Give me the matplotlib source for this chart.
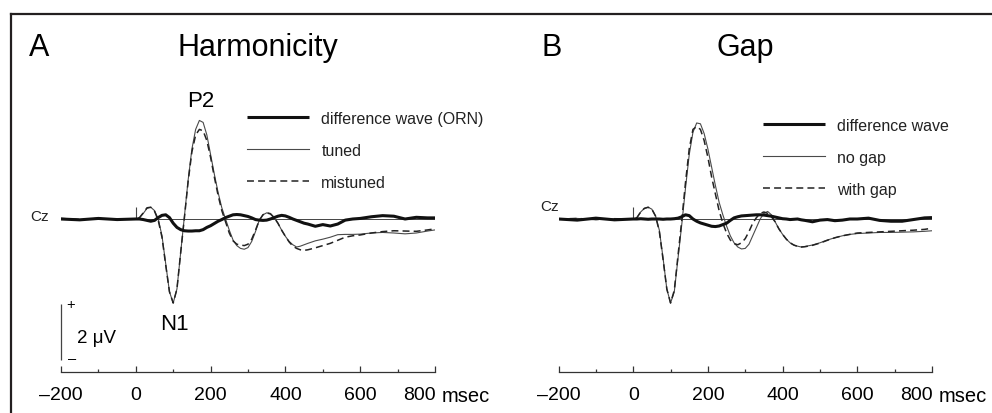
import numpy as np
import matplotlib.pyplot as plt
from matplotlib.lines import Line2D
from matplotlib.transforms import ScaledTranslation

plt.rcParams['font.family'] = ['Liberation Sans', 'DejaVu Sans']
plt.rcParams['lines.scale_dashes'] = False

# ---- data (µV) ----
t_ms = np.r_[[-200, -150, -100, -50], np.arange(0, 461, 10),
             np.arange(480, 601, 20), np.arange(630, 781, 30), [800]]

tuned = [0.02, -0.02, 0.02, -0.01, 0.0,
         0.05, 0.2, 0.38, 0.42, 0.3, 0.0, -0.6, -1.6, -2.6, -3.0,
         -2.5, -1.2, 0.1, 1.4, 2.5, 3.2, 3.52, 3.45, 3.0, 2.3,
         1.6, 0.95, 0.4, 0.0, -0.4, -0.75, -0.95, -1.05, -1.08, -1.02,
         -0.8, -0.45, -0.05, 0.15, 0.22, 0.2, 0.05, -0.15, -0.4, -0.62,
         -0.8, -0.92, -1.0, -0.97, -0.92, -0.87,
         -0.78, -0.72, -0.65, -0.56, -0.55, -0.55, -0.54,
         -0.5, -0.48, -0.5, -0.53, -0.5, -0.43,
         -0.39]
mistuned = [0.02, -0.02, 0.02, -0.01, 0.0,
            0.05, 0.22, 0.4, 0.42, 0.28, -0.05, -0.65, -1.65, -2.6, -3.0,
            -2.5, -1.2, 0.05, 1.35, 2.4, 3.0, 3.2, 3.15, 2.8, 2.2,
            1.5, 0.85, 0.3, -0.1, -0.5, -0.78, -0.9, -0.93, -0.95, -0.9,
            -0.72, -0.4, -0.05, 0.15, 0.22, 0.18, 0.05, -0.15, -0.4, -0.62,
            -0.82, -0.97, -1.05, -1.1, -1.12, -1.1,
            -1.03, -0.95, -0.87, -0.76, -0.65, -0.6, -0.57,
            -0.5, -0.45, -0.42, -0.43, -0.44, -0.39,
            -0.35]
orn = [0.0, -0.03, 0.02, -0.02, 0.0,
       0.0, -0.02, -0.05, -0.08, -0.05, 0.05, 0.13, 0.15, 0.05, -0.15,
       -0.3, -0.38, -0.42, -0.43, -0.43, -0.42, -0.42, -0.38, -0.3, -0.24,
       -0.16, -0.08, -0.02, 0.05, 0.1, 0.15, 0.16, 0.15, 0.12, 0.09,
       0.04, -0.02, -0.04, -0.05, -0.04, 0.0, 0.05, 0.1, 0.13, 0.11,
       0.06, 0.0, -0.05, -0.1, -0.15, -0.18,
       -0.26, -0.2, -0.25, -0.18, -0.04, 0.0, 0.02,
       0.08, 0.12, 0.1, 0.0, 0.06, 0.04,
       0.04]

no_gap = [0.0, 0.02, -0.02, 0.01, 0.0,
          0.05, 0.25, 0.38, 0.42, 0.35, 0.1, -0.4, -1.4, -2.5, -3.0,
          -2.6, -1.4, -0.2, 1.1, 2.3, 3.1, 3.43, 3.4, 3.05, 2.5,
          1.85, 1.2, 0.6, 0.15, -0.25, -0.6, -0.85, -1.0, -1.07, -1.05,
          -0.9, -0.6, -0.3, 0.0, 0.2, 0.27, 0.15, -0.1, -0.35, -0.55,
          -0.72, -0.85, -0.93, -0.97, -1.0, -0.98,
          -0.93, -0.85, -0.75, -0.67, -0.6, -0.55, -0.52,
          -0.5, -0.48, -0.48, -0.47, -0.46, -0.44,
          -0.42]
with_gap = [0.0, 0.02, -0.02, 0.01, 0.0,
            0.05, 0.25, 0.38, 0.42, 0.35, 0.1, -0.45, -1.45, -2.5, -3.0,
            -2.55, -1.3, -0.05, 1.3, 2.5, 3.2, 3.3, 3.2, 2.8, 2.2,
            1.5, 0.9, 0.3, -0.15, -0.5, -0.75, -0.88, -0.92, -0.85, -0.7,
            -0.45, -0.15, 0.05, 0.2, 0.25, 0.2, 0.08, -0.1, -0.35, -0.55,
            -0.72, -0.85, -0.93, -0.98, -1.0, -0.99,
            -0.94, -0.86, -0.76, -0.67, -0.6, -0.55, -0.5,
            -0.48, -0.46, -0.44, -0.42, -0.4, -0.37,
            -0.33]
gap_diff = [0.0, -0.04, 0.03, -0.03, 0.0,
            0.0, 0.01, 0.0, -0.01, 0.0, 0.0, 0.0, -0.01, 0.0, 0.0,
            0.01, 0.03, 0.08, 0.15, 0.12, 0.0, -0.08, -0.14, -0.18, -0.22,
            -0.26, -0.27, -0.25, -0.2, -0.15, -0.05, 0.04, 0.08, 0.11, 0.12,
            0.13, 0.14, 0.15, 0.15, 0.14, 0.12, 0.1, 0.07, 0.04, 0.01,
            0.0, -0.02, -0.01, 0.0, -0.03, -0.05,
            -0.1, -0.04, -0.02, -0.06, -0.04, 0.0, 0.0,
            0.03, -0.05, -0.08, -0.08, -0.02, 0.04,
            0.05]

tick_major = [-200, 0, 200, 400, 600, 800]
tick_minor = [-100, 100, 300, 500, 700]
tick_text = ['–200', '0', '200', '400', '600', '800']

# ---- layout (pixels measured from the top-left corner) ----
W, H = 992, 414
fig = plt.figure(figsize=(W / 100, H / 100), dpi=100)


def fx(x):
    return x / W


def fy(y):
    return 1 - y / H


px_per_uv = 28.0
base_y, axis_y, top_y = 220, 373, 14.5
ylim = (-(axis_y - base_y) / px_per_uv, (base_y - top_y) / px_per_uv)

thick = dict(color='#111111', lw=2.2, solid_capstyle='butt')
thin = dict(color='#4a4a4a', lw=0.8)
dashed = dict(color='#222222', lw=1.1, dashes=(5, 3))


def make_panel(left, width):
    ax = fig.add_axes([fx(left), fy(axis_y), width / W, (axis_y - top_y) / H])
    ax.patch.set_visible(False)
    ax.set_xlim(-200, 800)
    ax.set_ylim(*ylim)
    for s in ['top', 'left', 'right']:
        ax.spines[s].set_visible(False)
    ax.spines['bottom'].set_color('#333333')
    ax.spines['bottom'].set_linewidth(0.9)
    ax.set_yticks([])
    ax.set_xticks(tick_major)
    ax.set_xticks(tick_minor, minor=True)
    ax.set_xticklabels(tick_text)
    ax.tick_params(axis='x', which='major', direction='in', length=4, width=0.9,
                   color='#333333', labelsize=14, pad=10)
    ax.tick_params(axis='x', which='minor', direction='in', length=2.3, width=0.9,
                   color='#333333')
    # last label sits left of its tick to leave room for the unit
    lab = ax.xaxis.get_major_ticks()[-1].label1
    lab.set_transform(lab.get_transform() + ScaledTranslation(-0.16, 0, fig.dpi_scale_trans))
    ax.annotate('msec', xy=(800, 0), xycoords=ax.get_xaxis_transform(),
                xytext=(5, -10), textcoords='offset points',
                ha='left', va='top', fontsize=14.5)
    ax.axhline(0, color='#444444', lw=0.7)
    ax.vlines(0, 0, 0.42, color='#444444', lw=0.8)
    return ax


legend_kw = dict(loc='upper left', bbox_transform=fig.transFigure, frameon=False,
                 borderpad=0, borderaxespad=0, handlelength=3.9, handletextpad=0.75,
                 labelspacing=1.05, fontsize=11.5, labelcolor='#222222')

# ---- panel A: harmonicity ----
axA = make_panel(61, 374)
l_tu, = axA.plot(t_ms, tuned, **thin)
l_mi, = axA.plot(t_ms, mistuned, **dashed)
l_or, = axA.plot(t_ms, orn, **thick)
axA.legend([l_or, l_tu, l_mi], ['difference wave (ORN)', 'tuned', 'mistuned'],
           bbox_to_anchor=(fx(247), fy(112)), **legend_kw)
axA.text(-232, 0.1, 'Cz', ha='right', va='center', fontsize=11, color='#222222')
# 2 µV calibration bar
axA.vlines(-200, -3.05, -5.05, color='#444444', lw=0.9, clip_on=False)
fig.text(fx(71), fy(305), '+', ha='center', va='center', fontsize=10.5)
fig.text(fx(72), fy(359), '–', ha='center', va='center', fontsize=10.5)
fig.text(fx(77), fy(343), '2 μV', ha='left', va='baseline', fontsize=13.5)
fig.text(fx(201), fy(107), 'P2', ha='center', va='baseline', fontsize=16)
fig.text(fx(174.5), fy(330), 'N1', ha='center', va='baseline', fontsize=16)
fig.text(fx(29), fy(56.5), 'A', ha='left', va='baseline', fontsize=22)
fig.text(fx(258), fy(56.5), 'Harmonicity', ha='center', va='baseline', fontsize=22)

# ---- panel B: gap ----
axB = make_panel(558.5, 373.5)
l_ng, = axB.plot(t_ms, no_gap, **thin)
l_wg, = axB.plot(t_ms, with_gap, **dashed)
l_gd, = axB.plot(t_ms, gap_diff, **thick)
axB.legend([l_gd, l_ng, l_wg], ['difference wave', 'no gap', 'with gap'],
           bbox_to_anchor=(fx(763), fy(119)), **legend_kw)
axB.text(-198, 0.45, 'Cz', ha='right', va='center', fontsize=11, color='#222222')
fig.text(fx(541), fy(56), 'B', ha='left', va='baseline', fontsize=22)
fig.text(fx(745), fy(56.5), 'Gap', ha='center', va='baseline', fontsize=22)

# ---- outer frame (top and left edges) ----
fig.add_artist(Line2D([fx(11), fx(11)], [0, fy(14.5)], color='#231f20', lw=1.6))
fig.add_artist(Line2D([fx(11), 1], [fy(14.5), fy(14.5)], color='#231f20', lw=1.6))

fig.savefig('out.png', dpi=100)
